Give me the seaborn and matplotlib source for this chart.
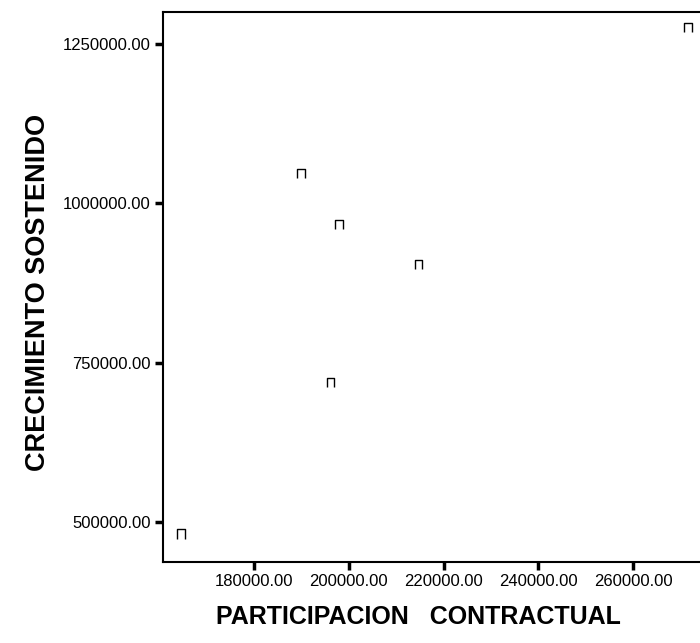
import numpy as np
import pandas as pd
import matplotlib.pyplot as plt
import seaborn as sns
from matplotlib.path import Path
from matplotlib.ticker import FormatStrFormatter

participacion = [271600, 189900, 197900, 214700, 196200, 164600]
crecimiento = [1276600, 1047000, 967100, 904400, 718700, 481200]
x_ticks = [180000, 200000, 220000, 240000, 260000]
y_ticks = [500000, 750000, 1000000, 1250000]

df = pd.DataFrame({"PARTICIPACION": participacion, "CRECIMIENTO": crecimiento})

sns.set_style("white")
plt.rcParams["font.family"] = ["Liberation Sans", "DejaVu Sans"]
plt.rcParams["text.color"] = "black"

# open square marker (no bottom side), like the SPSS glyph
open_sq = Path([(-0.8, -1.0), (-0.8, 1.0), (0.8, 1.0), (0.8, -1.0)],
               [Path.MOVETO, Path.LINETO, Path.LINETO, Path.LINETO])

fig = plt.figure(figsize=(7, 6.43), dpi=100)
ax = fig.add_axes([0.233, 0.126, 0.767, 0.855])

sns.scatterplot(data=df, x="PARTICIPACION", y="CRECIMIENTO", ax=ax,
                marker=open_sq, s=45, facecolor="none", edgecolor="black",
                linewidth=1.0)

ax.set_xlim(160840, 274100)
ax.set_ylim(437300, 1300200)
ax.set_xticks(x_ticks)
ax.set_yticks(y_ticks)
ax.xaxis.set_major_formatter(FormatStrFormatter("%.2f"))
ax.yaxis.set_major_formatter(FormatStrFormatter("%.2f"))
ax.tick_params(axis="both", direction="out", length=6, width=2.5,
               labelsize=12, colors="black", labelcolor="black",
               bottom=True, left=True, pad=3)

for side in ["left", "bottom", "top"]:
    ax.spines[side].set_color("black")
    ax.spines[side].set_linewidth(1.5)
ax.spines["right"].set_visible(False)

ax.set_xlabel("PARTICIPACION   CONTRACTUAL", fontsize=18, fontweight="bold",
              color="black", va="center")
ax.set_ylabel("CRECIMIENTO SOSTENIDO", fontsize=19.5, fontweight="bold",
              color="black", va="center")
ax.xaxis.set_label_coords(0.475, -0.1)
ax.yaxis.set_label_coords(-0.233, 0.49)

fig.savefig("out.png", dpi=100)
